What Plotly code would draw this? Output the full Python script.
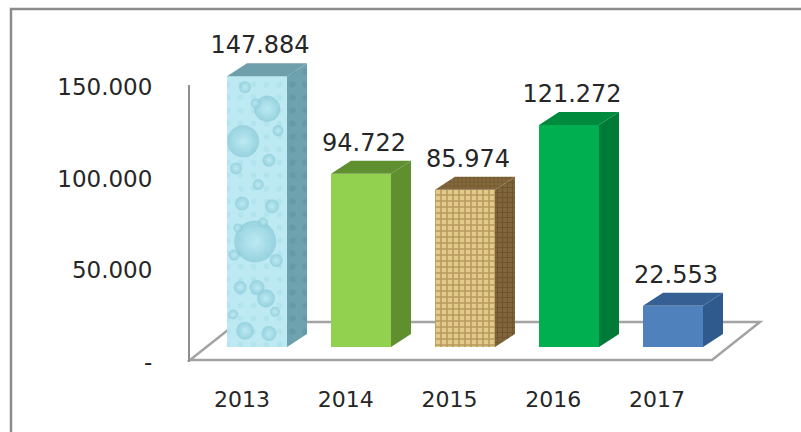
import plotly.graph_objects as go

# Chart data
years = ["2013", "2014", "2015", "2016", "2017"]
values = [147884, 94722, 85974, 121272, 22553]
labels = ["147.884", "94.722", "85.974", "121.272", "22.553"]
tick_values = [0, 50000, 100000, 150000]
tick_labels = ["-", "50.000", "100.000", "150.000"]

# Face colours per bar
front_colors = ["#bdeaf2", "#92d050", "#e3c98a", "#00b050", "#4f81bd"]
side_colors = ["#6ea2ae", "#5f8f2e", "#80663a", "#007a37", "#2f5a8e"]
top_colors = ["#6f9fab", "#5f8f2e", "#85693c", "#008a3e", "#365f93"]

W, H = 801, 432
PX_PER_VALUE = 1.83 / 1000     # vertical pixels per unit of value
PX_PER_CAT = 104               # horizontal pixels per category
BASE_PX = 347                  # pixel row of the bars' front base
ZERO_PX = 361.5                # pixel row of the wall's zero
FLOOR_FRONT_PX = 360           # pixel row of the floor's front edge
FLOOR_BACK_PX = 322            # pixel row of the floor's back edge
FIRST_PX = 257                 # pixel column of the first bar's centre
BAR_WIDTH = 60 / PX_PER_CAT
DEPTH_X = 20 / PX_PER_CAT      # oblique depth of the boxes
DEPTH_Y = 13 / PX_PER_VALUE
FONT = "DejaVu Sans"
TEXT_COLOR = "#262626"


def cat_from_px(px):
    return (px - FIRST_PX) / PX_PER_CAT


def val_from_px(py):
    return (BASE_PX - py) / PX_PER_VALUE


positions = list(range(len(years)))
fig = go.Figure()

# Woven fill for 2015, plain colours elsewhere, dotted water surface for 2013
front_patterns = [
    dict(shape=".", size=13, solidity=0.16, fgcolor="#a6dde8", bgcolor=front_colors[0]),
    dict(shape=""),
    dict(shape="+", size=6, solidity=0.45, fgcolor="#8a6a30", bgcolor=front_colors[2]),
    dict(shape=""),
    dict(shape=""),
]
for i, year in enumerate(years):
    fig.add_trace(go.Bar(
        x=[positions[i]], y=[values[i]], width=BAR_WIDTH,
        marker=dict(color=front_colors[i], line=dict(width=0), pattern=front_patterns[i]),
        name=year, hoverinfo="skip",
    ))

# Side and top faces of each box, offset from the front face by the depth
for i in positions:
    left = i - BAR_WIDTH / 2
    right = i + BAR_WIDTH / 2
    side_pattern = None
    top_pattern = None
    if i == 0:
        side_pattern = dict(shape=".", size=13, solidity=0.2, fgcolor="#5b93a1", bgcolor=side_colors[0])
    if i == 2:
        side_pattern = dict(shape="+", size=5, solidity=0.4, fgcolor="#5a4422", bgcolor=side_colors[2])
        top_pattern = dict(shape="+", size=4, solidity=0.35, fgcolor="#5a4422", bgcolor=top_colors[2])
    fig.add_trace(go.Scatter(
        x=[right, right + DEPTH_X, right + DEPTH_X, right, right],
        y=[0, DEPTH_Y, values[i] + DEPTH_Y, values[i], 0],
        mode="lines", line=dict(width=0), fill="toself",
        fillcolor=side_colors[i], fillpattern=side_pattern,
        showlegend=False, hoverinfo="skip",
    ))
    fig.add_trace(go.Scatter(
        x=[left, left + DEPTH_X, right + DEPTH_X, right, left],
        y=[values[i], values[i] + DEPTH_Y, values[i] + DEPTH_Y, values[i], values[i]],
        mode="lines", line=dict(width=0), fill="toself",
        fillcolor=top_colors[i], fillpattern=top_pattern,
        showlegend=False, hoverinfo="skip",
    ))

# Droplets on the 2013 bar: (share of width, share of height, diameter)
drops = [
    (0.47, 0.39, 42), (0.27, 0.76, 32), (0.67, 0.88, 26), (0.70, 0.69, 13),
    (0.30, 0.96, 12), (0.75, 0.52, 14), (0.25, 0.53, 14), (0.65, 0.18, 18),
    (0.30, 0.06, 18), (0.70, 0.05, 15), (0.22, 0.22, 13), (0.50, 0.22, 15),
    (0.52, 0.60, 11), (0.82, 0.32, 13), (0.12, 0.34, 11), (0.85, 0.80, 11),
    (0.15, 0.66, 12), (0.48, 0.90, 10), (0.60, 0.46, 10), (0.18, 0.44, 9),
    (0.80, 0.13, 10), (0.10, 0.12, 10),
]
fig.add_trace(go.Scatter(
    x=[positions[0] - BAR_WIDTH / 2 + d[0] * BAR_WIDTH for d in drops],
    y=[d[1] * values[0] for d in drops],
    mode="markers",
    marker=dict(
        size=[d[2] for d in drops],
        color="#86c8d6",
        opacity=0.7,
        line=dict(width=0),
        gradient=dict(type="radial", color="#bdeaf2"),
    ),
    showlegend=False, hoverinfo="skip",
))

# Value labels above each box
fig.add_trace(go.Scatter(
    x=[p + 3 / PX_PER_CAT for p in positions],
    y=[v + 29 / PX_PER_VALUE for v in values],
    mode="text", text=labels, textposition="middle center",
    textfont=dict(family=FONT, size=24, color=TEXT_COLOR),
    showlegend=False, hoverinfo="skip",
))

# Carries the category and wall axes
fig.add_trace(go.Scatter(
    x=years, y=values, xaxis="x2", yaxis="y2",
    mode="markers", marker=dict(opacity=0, size=1),
    showlegend=False, hoverinfo="skip",
))

# Floor of the 3D box
floor_x = [cat_from_px(190), cat_from_px(712), cat_from_px(760), cat_from_px(238)]
floor_y = [val_from_px(p) for p in (FLOOR_FRONT_PX, FLOOR_FRONT_PX, FLOOR_BACK_PX, FLOOR_BACK_PX)]
floor_path = "M " + " L ".join(f"{x},{y}" for x, y in zip(floor_x, floor_y)) + " Z"

wall_left = 190
wall_right = 709

fig.update_layout(
    width=W, height=H,
    margin=dict(l=0, r=0, t=0, b=0),
    paper_bgcolor="white", plot_bgcolor="rgba(0,0,0,0)",
    showlegend=False, bargap=0, barmode="overlay",
    xaxis=dict(range=[cat_from_px(0), cat_from_px(W)], visible=False, fixedrange=True, automargin=False),
    yaxis=dict(range=[val_from_px(H), val_from_px(0)], visible=False, fixedrange=True, automargin=False),
    xaxis2=dict(
        domain=[wall_left / W, wall_right / W], anchor="y2", type="category",
        categoryorder="array", categoryarray=years, range=[-0.5, 4.5],
        showgrid=False, zeroline=False, showline=False, ticks="",
        ticklabelstandoff=22, automargin=False,
        tickfont=dict(family=FONT, size=22, color=TEXT_COLOR),
    ),
    yaxis2=dict(
        domain=[(H - ZERO_PX) / H, (H - 85) / H], anchor="x2",
        range=[0, (ZERO_PX - 85) / PX_PER_VALUE],
        tickvals=tick_values, ticktext=tick_labels,
        showgrid=False, zeroline=False, showline=True,
        linecolor="#8f8f8f", linewidth=2, ticks="",
        ticklabelstandoff=31, automargin=False,
        tickfont=dict(family=FONT, size=23, color=TEXT_COLOR),
    ),
    shapes=[
        dict(type="path", path=floor_path, xref="x", yref="y", layer="below",
             line=dict(color="#a3a3a3", width=2.5), fillcolor="white"),
        dict(type="rect", xref="paper", yref="paper", layer="below",
             x0=11 / W, x1=1.01, y0=-0.01, y1=(H - 9) / H,
             line=dict(color="#8c8c8c", width=2.5), fillcolor="rgba(0,0,0,0)"),
    ],
)

fig.write_html("out.html")
